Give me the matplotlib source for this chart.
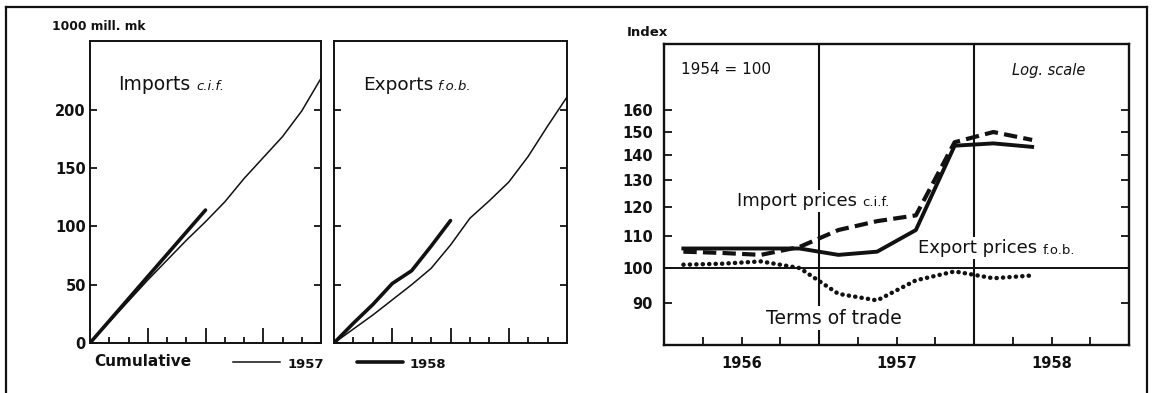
import matplotlib
matplotlib.use("Agg")
import matplotlib.pyplot as plt
from matplotlib.lines import Line2D
from matplotlib.ticker import FixedLocator, NullFormatter, NullLocator

# ---------------- data ----------------
months = list(range(13))
imports_1957 = [0, 18, 36, 54, 71, 88, 104, 121, 141, 159, 177, 199, 227]
imports_1958 = [0, 19, 38, 57, 76, 95, 114]
exports_1957 = [0, 12, 24, 37, 50, 64, 84, 107, 122, 138, 160, 186, 211]
exports_1958 = [0, 17, 33, 51, 62, 83, 105]
value_ticks = [0, 50, 100, 150, 200]

quarters = ['1956-Q1', '1956-Q2', '1956-Q3', '1956-Q4',
            '1957-Q1', '1957-Q2', '1957-Q3', '1957-Q4',
            '1958-Q1', '1958-Q2']
export_prices = [106, 106, 106, 106, 104, 105, 112, 144, 145, 143.5]
import_prices = [105, 104.6, 104, 106.5, 112, 115, 117, 145.5, 150, 146.5]
terms_of_trade = [101, 101.3, 102, 100, 92.6, 90.8, 96.4, 99, 97, 97.8]
index_ticks = [90, 100, 110, 120, 130, 140, 150, 160]
years = ['1956', '1957', '1958']

# ---------------- figure ----------------
W, H = 1152, 393
fig = plt.figure(figsize=(W / 100, H / 100), dpi=100)
plt.rcParams['font.family'] = ['DejaVu Sans']


def fx(px):
    return px / W


def fy(py):
    return 1 - py / H


def rect(l, t, r, b):
    return [fx(l), fy(b), (r - l) / W, (b - t) / H]


INK = '#111111'

# figure border
for xs, ys in [([6, 1147], [7, 7]), ([6, 6], [7, 393]), ([1147, 1147], [7, 393])]:
    fig.add_artist(Line2D([fx(x) for x in xs], [fy(y) for y in ys],
                          color=INK, lw=1.6))

# ---------------- left cumulative panels ----------------
ax_imp = fig.add_axes(rect(90, 41, 321, 343))
ax_exp = fig.add_axes(rect(334, 41, 567, 343))

for ax, v57, v58 in [(ax_imp, imports_1957, imports_1958),
                     (ax_exp, exports_1957, exports_1958)]:
    ax.plot(months, v57, color=INK, lw=1.1, solid_joinstyle='round')
    ax.plot(months[:len(v58)], v58, color=INK, lw=2.6,
            solid_capstyle='round', solid_joinstyle='round')
    ax.set_xlim(0, 12)
    ax.set_ylim(0, 259)
    for s in ax.spines.values():
        s.set_linewidth(1.4)
        s.set_color(INK)
    ax.xaxis.set_major_locator(FixedLocator([3, 6, 9]))
    ax.xaxis.set_minor_locator(FixedLocator([1, 2, 4, 5, 7, 8, 10, 11]))
    ax.xaxis.set_major_formatter(NullFormatter())
    ax.tick_params(axis='x', which='major', direction='in', length=10.5,
                   width=1.3, color=INK, bottom=True, top=False)
    ax.tick_params(axis='x', which='minor', direction='in', length=4.6,
                   width=1.3, color=INK, bottom=True, top=False)
    ax.yaxis.set_major_locator(FixedLocator(value_ticks))
    ax.yaxis.set_minor_locator(NullLocator())
    ax.tick_params(axis='y', direction='in', length=4.8, width=1.3,
                   color=INK, left=True, right=True, pad=3)

ax_imp.set_yticklabels([str(v) for v in value_ticks], fontsize=10.5,
                       fontweight='bold', color=INK)
ax_exp.yaxis.set_major_formatter(NullFormatter())

fig.text(fx(52), fy(27), '1000 mill. mk', fontsize=8.8, fontweight='bold',
         color=INK, va='center', ha='left')
fig.text(fx(118), fy(84), 'Imports', fontsize=13.5, color=INK,
         va='center', ha='left')
fig.text(fx(196), fy(86), 'c.i.f.', fontsize=9.5, color=INK,
         va='center', ha='left', style='italic')
fig.text(fx(363), fy(85), 'Exports', fontsize=13.3, color=INK,
         va='center', ha='left')
fig.text(fx(437), fy(87), 'f.o.b.', fontsize=9.5, color=INK,
         va='center', ha='left', style='italic')

# legend
fig.text(fx(94), fy(361), 'Cumulative', fontsize=11, fontweight='bold',
         color=INK, va='center', ha='left')
fig.add_artist(Line2D([fx(233), fx(280)], [fy(362), fy(362)], color=INK, lw=1.1))
fig.text(fx(288), fy(364), '1957', fontsize=9.5, fontweight='bold',
         color=INK, va='center', ha='left')
fig.add_artist(Line2D([fx(357), fx(403)], [fy(362), fy(362)], color=INK,
                      lw=2.6, solid_capstyle='round'))
fig.text(fx(410), fy(364), '1958', fontsize=9.5, fontweight='bold',
         color=INK, va='center', ha='left')

# ---------------- right price-index panel ----------------
ax = fig.add_axes(rect(664, 44, 1129, 345))


def qpos(q):
    y, qq = q.split('-Q')
    return int(y) + (int(qq) - 0.5) / 4


qx = [qpos(q) for q in quarters]
ax.set_yscale('log')
ax.set_xlim(1956, 1959)
ax.set_ylim(79.5, 195)

ax.axhline(100, color=INK, lw=1.4, zorder=1)
for yb in [1957, 1958]:
    ax.axvline(yb, color=INK, lw=1.5, zorder=1)

ax.plot(qx, export_prices, color=INK, lw=2.8, solid_joinstyle='round',
        zorder=3)
ax.plot(qx, import_prices, color=INK, lw=3.0, linestyle=(0, (3.2, 1.5)),
        dash_capstyle='butt', zorder=3)
ax.plot(qx, terms_of_trade, color=INK, lw=3.2, linestyle=(0, (0.05, 1.4)),
        dash_capstyle='round', zorder=3)

for s in ax.spines.values():
    s.set_linewidth(1.7)
    s.set_color(INK)

ax.yaxis.set_major_locator(FixedLocator(index_ticks))
ax.yaxis.set_minor_locator(NullLocator())
ax.set_yticklabels([str(v) for v in index_ticks], fontsize=10.5,
                   fontweight='bold', color=INK)
ax.tick_params(axis='y', which='both', direction='in', length=5.8, width=1.3,
               color=INK, left=True, right=True, pad=8)

quarter_ticks = [1956 + i / 4 for i in range(1, 12) if i % 4 != 0]
ax.xaxis.set_major_locator(FixedLocator([1957, 1958]))
ax.xaxis.set_minor_locator(FixedLocator(quarter_ticks))
ax.xaxis.set_major_formatter(NullFormatter())
ax.xaxis.set_minor_formatter(NullFormatter())
ax.tick_params(axis='x', which='major', direction='in', length=10.5,
               width=1.3, color=INK, bottom=True, top=False)
ax.tick_params(axis='x', which='minor', direction='in', length=5.8,
               width=1.3, color=INK, bottom=True, top=False)
for i, yr in enumerate(years):
    ax.text(1956.5 + i, -0.06, yr, transform=ax.get_xaxis_transform(),
            fontsize=10.5, fontweight='bold', color=INK, ha='center',
            va='center')

box = dict(facecolor='white', edgecolor='none', pad=1.5)
fig.text(fx(627), fy(33), 'Index', fontsize=9.5, fontweight='bold',
         color=INK, va='center', ha='left')
fig.text(fx(681), fy(70), '1954 = 100', fontsize=11, color=INK,
         va='center', ha='left')
fig.text(fx(1012), fy(70), 'Log. scale', fontsize=10.5, color=INK,
         va='center', ha='left', style='italic')
fig.text(fx(737), fy(201), 'Import prices', fontsize=13, color=INK,
         va='center', ha='left', bbox=box, zorder=5)
fig.text(fx(862), fy(203), 'c.i.f.', fontsize=9.5, color=INK,
         va='center', ha='left', zorder=5)
fig.text(fx(918), fy(248), 'Export prices', fontsize=13, color=INK,
         va='center', ha='left', bbox=box, zorder=5)
fig.text(fx(1043), fy(250), 'f.o.b.', fontsize=9.5, color=INK,
         va='center', ha='left', zorder=5)
fig.text(fx(766), fy(318), 'Terms of trade', fontsize=13.5, color=INK,
         va='center', ha='left', bbox=box, zorder=5)

fig.savefig('out.png', dpi=100, facecolor='white')
